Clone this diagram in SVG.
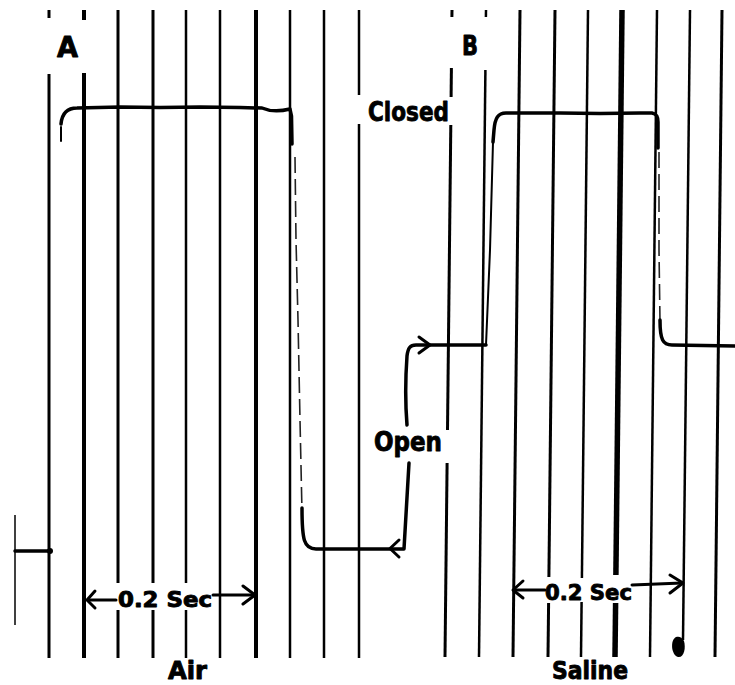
<svg xmlns="http://www.w3.org/2000/svg" width="735" height="685" viewBox="0 0 735 685">
<style>
.g{stroke:#000;fill:none;stroke-linecap:butt}
.w15{stroke-width:1.5}.w25{stroke-width:2.5}.w3{stroke-width:3}.w4{stroke-width:4}.w55{stroke-width:5.5}
.tr{stroke:#000;fill:none;stroke-width:3.5;stroke-linejoin:round;stroke-linecap:round}
.thin{stroke:#000;fill:none;stroke-width:2;stroke-linecap:round}
.faint{stroke:#222;fill:none;stroke-width:1.6;stroke-dasharray:16 6}
.ar{stroke:#000;fill:none;stroke-width:3;stroke-linecap:round;stroke-linejoin:round}
.lbl{font-family:"DejaVu Sans","Liberation Sans",sans-serif;font-weight:bold;fill:#000;stroke:#000;stroke-width:0.9;stroke-linejoin:round}
</style>
<rect width="735" height="685" fill="#fff"/>
<g id="grid">
  <line class="g w15" x1="15" y1="515" x2="15" y2="625"/>
  <line class="g w3" x1="49" y1="10" x2="49" y2="18"/>
  <line class="g w3" x1="49" y1="74" x2="49" y2="658"/>
  <line class="g w4" x1="84" y1="10" x2="84" y2="20"/>
  <line class="g w4" x1="84" y1="73" x2="84" y2="658"/>
  <line class="g w3" x1="118" y1="10" x2="118" y2="583"/>
  <line class="g w3" x1="118" y1="610" x2="118" y2="658"/>
  <line class="g w3" x1="153" y1="10" x2="153" y2="583"/>
  <line class="g w3" x1="153" y1="610" x2="153" y2="658"/>
  <line class="g w25" x1="186" y1="10" x2="186" y2="583"/>
  <line class="g w25" x1="186" y1="610" x2="186" y2="658"/>
  <line class="g w25" x1="220" y1="10" x2="220" y2="658"/>
  <line class="g w4" x1="256" y1="10" x2="256" y2="658"/>
  <line class="g w25" x1="290" y1="10" x2="290" y2="658"/>
  <line class="g w25" x1="324" y1="10" x2="324" y2="658"/>
  <line class="g w25" x1="359" y1="10" x2="359" y2="95"/>
  <line class="g w25" x1="359" y1="124" x2="359" y2="658"/>
  <line class="g w3" x1="452" y1="10" x2="451.9" y2="17"/>
  <line class="g w3" x1="451.4" y1="68" x2="451.1" y2="97"/>
  <line class="g w3" x1="450.8" y1="125" x2="447.5" y2="430"/>
  <line class="g w3" x1="447.1" y1="463" x2="445" y2="657"/>
  <line class="g w25" x1="486" y1="10" x2="485.9" y2="17"/>
  <line class="g w25" x1="485.4" y1="70" x2="479" y2="657"/>
  <line class="g w3" x1="520" y1="10" x2="513" y2="657"/>
  <line class="g w3" x1="555" y1="10" x2="548.9" y2="577"/>
  <line class="g w3" x1="548.6" y1="603" x2="548" y2="657"/>
  <line class="g w25" x1="588" y1="10" x2="581.9" y2="578"/>
  <line class="g w25" x1="581.6" y1="602" x2="581" y2="657"/>
  <line class="g w55" x1="622" y1="10" x2="615.9" y2="575"/>
  <line class="g w55" x1="615.6" y1="603" x2="615" y2="657"/>
  <line class="g w25" x1="657" y1="10" x2="650" y2="657"/>
  <line class="g w25" x1="690" y1="10" x2="683" y2="640"/>
  <line class="g w3" x1="722" y1="10" x2="715" y2="657"/>
  <path d="M676,637 C670,640 671,655 678,657 C684,658 686,648 684,641 C682,637 679,636 676,637 Z" fill="#000"/>
</g>
<g id="trace-A">
  <path class="tr" d="M15,551 L50,551"/>
  <circle cx="50" cy="551" r="3" fill="#000"/>
  <path class="thin" d="M61,127 L61,141"/>
  <path class="tr" d="M61,124 C62,113 67,108 77,108 L120,107 L160,107.6 L200,107 L240,107.6 L262,108 C270,111.5 280,111.5 290,109 L291.5,116 L292,144"/>
  <path class="faint" d="M295,157 L296,240 L298,320 L300,420 L302,512"/>
  <path class="tr" d="M302,508 C302,540 304,549 316,549 L404,549 L409,463"/>
  <path class="ar" d="M399,540 L390,548.5 L399,557"/>
  <path class="tr" d="M407,425 C405,400 406,370 407,356 C408,348 410,345 416,345 L486,345"/>
  <path class="ar" d="M419,337 L430,345 L419,353"/>
</g>
<g id="trace-B">
  <path class="thin" d="M486,345 L490,250 L493,142"/>
  <path class="tr" d="M493,142 L494,130 C495,118 498,113 506,113 L560,113 L600,113.6 L640,113 L652,113 C657,114 658,117 658,122 L658,148"/>
  <path class="faint" d="M659,152 L659,250 L660,322"/>
  <path class="tr" d="M660,320 C660,340 663,345 672,345 L735,346"/>
</g>
<g id="scale-bars">
  <path class="ar" d="M88,600 L116,600"/>
  <path class="ar" d="M95,591 L87,600 L95,608"/>
  <path class="ar" d="M213,595 L254,595"/>
  <path class="ar" d="M243,586 L255,595 L243,604"/>
  <path class="ar" d="M514,590 L545,590"/>
  <path class="ar" d="M523,581 L513,590 L523,598"/>
  <path class="ar" d="M632,585 L682,583"/>
  <path class="ar" d="M670,575 L683,583 L670,593"/>
</g>
<g id="labels">
  <text class="lbl" x="57" y="57" font-size="28" textLength="21" lengthAdjust="spacingAndGlyphs">A</text>
  <text class="lbl" x="462" y="55" font-size="27" textLength="16" lengthAdjust="spacingAndGlyphs">B</text>
  <text class="lbl" x="368" y="121" font-size="27" textLength="81" lengthAdjust="spacingAndGlyphs">Closed</text>
  <text class="lbl" x="374" y="451" font-size="26" textLength="68" lengthAdjust="spacingAndGlyphs">Open</text>
  <text class="lbl" x="118" y="607" font-size="21" textLength="94" lengthAdjust="spacingAndGlyphs">0.2 Sec</text>
  <text class="lbl" x="545" y="600" font-size="22" textLength="87" lengthAdjust="spacingAndGlyphs">0.2 Sec</text>
  <text class="lbl" x="168" y="679" font-size="24" textLength="39" lengthAdjust="spacingAndGlyphs">Air</text>
  <text class="lbl" x="552" y="679" font-size="24" textLength="76" lengthAdjust="spacingAndGlyphs">Saline</text>
</g>
</svg>
